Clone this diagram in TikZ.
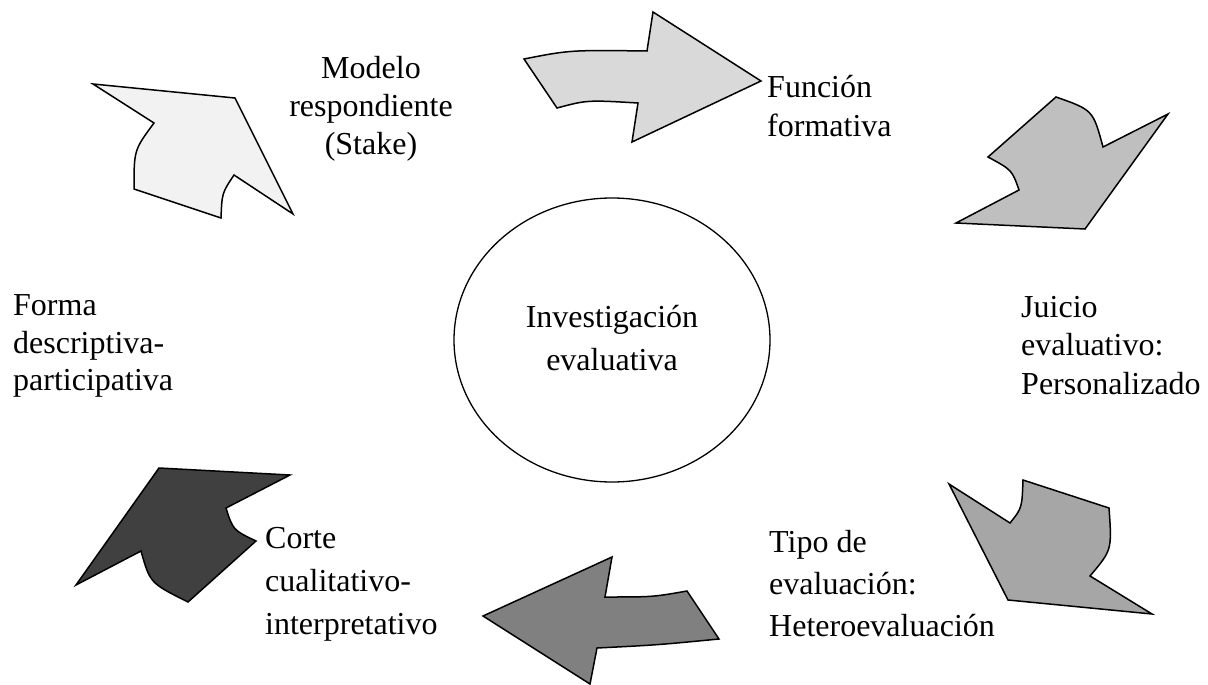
\documentclass[tikz,border=0pt]{standalone}
\usepackage{fontspec}
\setmainfont{Liberation Serif}
\usetikzlibrary{shapes.geometric}
\begin{document}
\begin{tikzpicture}[x=1pt,y=-1pt,
  arrowshape/.style={draw=black,line width=1.5pt,line join=miter},
  lbl/.style={anchor=north west,inner sep=0pt,align=left,
    font=\fontsize{32}{#1}\selectfont,execute at begin node=\strut},
  lbl/.default=39,
  clbl/.style={anchor=north,inner sep=0pt,align=center,
    font=\fontsize{32}{#1}\selectfont,execute at begin node=\strut},
  clbl/.default=38]
\useasboundingbox (0,0) rectangle (1208,685);
% Arrow 1 (top-left)
\filldraw[arrowshape,fill={rgb,255:red,242;green,242;blue,242}]
  (93,84) -- (235,98) -- (293,214) -- (234,175)
  .. controls (222,193) .. (221,218) -- (134,189)
  .. controls (134,150) .. (154,123) -- cycle;
% Arrow 2 (top)
\filldraw[arrowshape,fill={rgb,255:red,217;green,217;blue,217}]
  (524,59) .. controls (570,50) .. (647,51) -- (653,12) -- (761,81)
  -- (632,142) -- (638,103) .. controls (587,100) .. (557,108) -- cycle;
% Arrow 3 (top-right)
\filldraw[arrowshape,fill={rgb,255:red,191;green,191;blue,191}]
  (1056,97) .. controls (1093,110) .. (1103,147) -- (1168,114)
  -- (1085,229) -- (956,223) -- (1019,190)
  .. controls (1012,170) .. (988,157) -- cycle;
% Arrow 4 (bottom-right)
\filldraw[arrowshape,fill={rgb,255:red,166;green,166;blue,166}]
  (949,484) -- (1010,523) .. controls (1022,508) .. (1023,480)
  -- (1109,508) .. controls (1112,550) .. (1090,576)
  -- (1152,614) -- (1008,600) -- cycle;
% Arrow 5 (bottom)
\filldraw[arrowshape,fill={rgb,255:red,128;green,128;blue,128}]
  (483,616) -- (612,557) -- (605,597) .. controls (653,597) .. (687,591)
  -- (719,639) .. controls (657,645) .. (597,648) -- (590,684) -- cycle;
% Arrow 6 (bottom-left)
\filldraw[arrowshape,fill={rgb,255:red,64;green,64;blue,64}]
  (159,468) -- (290,475) -- (226,508) .. controls (233,530) .. (256,541)
  -- (188,602) .. controls (150,583) .. (141,551) -- (76,585) -- cycle;
% Centre
\node[draw,ellipse,line width=1.3pt,minimum width=316pt,minimum height=284pt,
  inner sep=0pt,align=center,font=\fontsize{32}{43}\selectfont]
  (centro) at (612,340) {\strut Investigación\\evaluativa\strut};
% Labels
\node[clbl=38] (modelo) at (371,{83-0.7*38}) {Modelo\\respondiente\\(Stake)};
\node[lbl=39] (funcion) at (767,{102-0.7*39}) {Función\\formativa};
\node[lbl=38.5] (juicio) at (1021,{323-0.7*38.5}) {Juicio\\evaluativo:\\Personalizado};
\node[lbl=42] (tipo) at (769,{559-0.7*42}) {Tipo de\\evaluación:\\Heteroevaluación};
\begin{scope}
\clip (0,0) rectangle (1208,646);
\node[lbl=43] (corte) at (265,{557-0.7*43}) {Corte\\cualitativo-\\interpretativo};
\end{scope}
\node[lbl=37.5] (forma) at (13,{321-0.7*37.5}) {Forma\\descriptiva-\\participativa};
\end{tikzpicture}
\end{document}
